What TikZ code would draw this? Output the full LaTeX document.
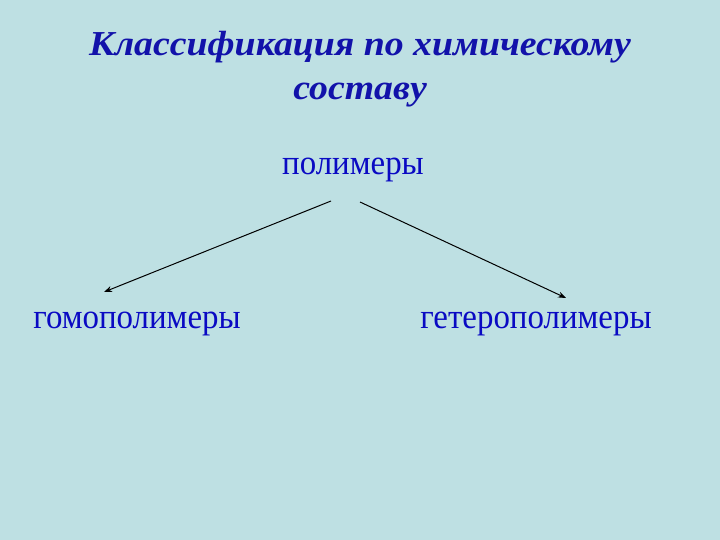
\documentclass[tikz,border=0pt]{standalone}
\usepackage{fontspec}
\setmainfont{Liberation Serif}
\newfontfamily\titlefont[FakeStretch=1.08]{Liberation Serif}
\newfontfamily\termfont[FakeStretch=0.94]{Liberation Serif}
\usetikzlibrary{arrows.meta}
\definecolor{bg}{RGB}{190,224,227}
\definecolor{titleblue}{RGB}{18,18,170}
\definecolor{textblue}{RGB}{10,10,195}
\tikzset{
  titletext/.style={text=titleblue,font=\titlefont\fontsize{35}{44}\selectfont\bfseries\itshape,align=center,inner sep=0pt,anchor=base},
  term/.style={text=textblue,font=\termfont\fontsize{35}{40}\selectfont,inner sep=0pt,anchor=base},
  conn/.style={draw=black,line width=1pt,-{Stealth[length=8pt,width=6pt]}}
}
\begin{document}
\begin{tikzpicture}[x=1pt,y=-1pt]
\fill[bg] (0,0) rectangle (720,540);
\useasboundingbox (0,0) rectangle (720,540);
\node[titletext] (title) at (360,100) {Классификация по химическому\\составу};
\node[term] (poly) at (353,175) {полимеры};
\node[term] (homo) at (137,328) {гомополимеры};
\node[term] (hetero) at (536,328) {гетерополимеры};
\coordinate (s1) at (331,201);
\coordinate (e1) at (104,292);
\coordinate (s2) at (360,202);
\coordinate (e2) at (566,298);
\draw[conn] (s1) -- (e1);
\draw[conn] (s2) -- (e2);
\end{tikzpicture}
\end{document}
